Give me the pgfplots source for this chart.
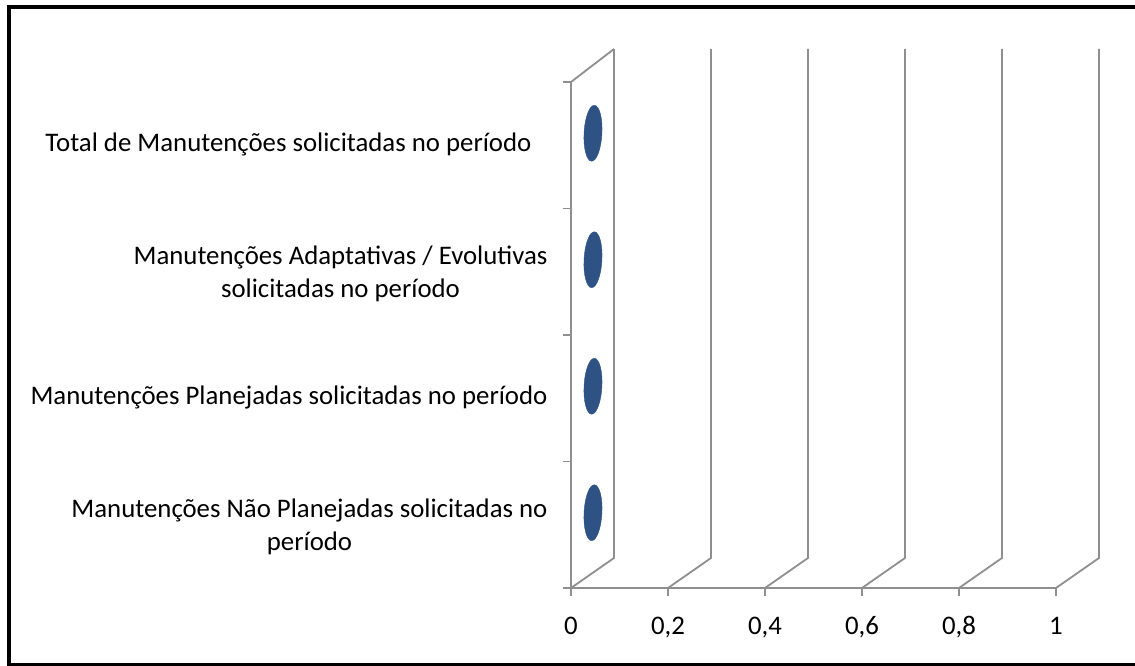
\documentclass[border=0pt]{standalone}
\usepackage{fontspec}
\setmainfont{Carlito}
\usepackage{pgfplots}
\pgfplotsset{compat=1.18}
\definecolor{gridgray}{HTML}{8F8F8F}
\definecolor{capblue}{HTML}{2F5284}

\begin{document}
\begin{tikzpicture}[x=1bp,y=1bp]
\useasboundingbox (-571bp,-78bp) rectangle (564bp,588bp);
\begin{axis}[
    at={(0,0)}, anchor=south west,
    scale only axis, width=485bp, height=506bp,
    xmin=0, xmax=1, ymin=0, ymax=4,
    clip=false,
    axis x line*=bottom, axis y line*=left,
    axis line style={gridgray, line width=1.8bp, -},
    tick style={gridgray, line width=1.8bp},
    tick align=outside,
    xtick align=outside, xtick pos=left,
    major tick length=8bp,
    xtick={0,0.2,0.4,0.6,0.8,1},
    /pgf/number format/use comma,
    /pgf/number format/assume math mode=true,
    typeset ticklabels with strut,
    xticklabel style={font=\fontsize{26.8bp}{32bp}\selectfont, yshift=-13bp},
    ytick={0,1,2,3,4},
    yticklabels={},
    extra y ticks={0.5,1.5,2.5,3.5},
    extra y tick labels={
      {Manutenções Não Planejadas solicitadas no\\período},
      {Manutenções Planejadas solicitadas no período},
      {Manutenções Adaptativas / Evolutivas\\solicitadas no período},
      {Total de Manutenções solicitadas no período\hspace*{16bp}}},
    extra y tick style={major tick length=0bp,
      yticklabel style={font=\fontsize{26.8bp}{33bp}\selectfont, align=center, xshift=-20bp}},
]
% 3D back wall and floor lines
\pgfplotsinvokeforeach{0,0.2,0.4,0.6,0.8,1}{
  \draw[gridgray, line width=1.8bp] (axis cs:#1,0) -- ++(43bp,30bp) -- ++(0,509bp);
}
\draw[gridgray, line width=1.8bp] (axis cs:0,4) -- ++(43bp,33bp);
% zero-valued cylinders: only their end caps show
\addplot[only marks, mark=*, mark size=28bp, color=capblue,
  mark options={xshift=22bp, yshift=12bp, rotate=-3, xscale=0.32, fill=capblue, draw=capblue}]
  coordinates {(0,3.5) (0,2.5) (0,1.5) (0,0.5)};
\end{axis}
\draw[black, line width=4bp] (-562bp,-77bp) rectangle (575bp,581bp);
\end{tikzpicture}
\end{document}
